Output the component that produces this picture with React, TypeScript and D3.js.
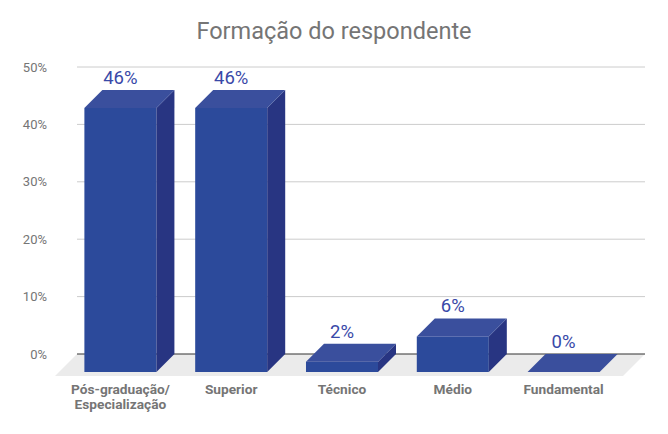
import React from "react";
import * as d3 from "d3";

const categories = ["Pós-graduação/\nEspecialização", "Superior", "Técnico", "Médio", "Fundamental"];
const values = [46, 46, 1.8, 6.2, 0];
const yTicks = [0, 10, 20, 30, 40, 50];
const title = "Formação do respondente";

const W = 668;
const H = 434;
const DX = 18;
const DY = 18;

export default function App() {
  const y = d3.scaleLinear().domain([0, 50]).range([354, 67]);
  const x = d3.scaleBand<string>().domain(categories).range([65, 619]).paddingInner(0.35).paddingOuter(0.175);
  const bw = x.bandwidth();
  const gridX0 = 77;
  const gridX1 = 645;
  const y0 = y(0);
  const font = "Roboto, 'Noto Sans', sans-serif";

  const floor = [
    [gridX0, y0],
    [gridX1, y0],
    [gridX1 - 22, y0 + 22],
    [gridX0 - 22, y0 + 22],
  ];

  return (
    <svg width={W} height={H} style={{ position: "fixed", left: 0, top: 0, background: "#fff" }} fontFamily={font}>
      <rect x={0} y={0} width={W} height={H} fill="#fff" />
      <text x={334} y={39} textAnchor="middle" fontSize={23.5} fill="#757575">{title}</text>
      <polygon points={floor.map((p) => p.join(",")).join(" ")} fill="#ebebeb" />
      {yTicks.map((t) => (
        <g key={t}>
          {t > 0 && <line x1={gridX0} x2={gridX1} y1={y(t)} y2={y(t)} stroke="#cccccc" strokeWidth={1} />}
          <text x={47} y={y(t) + 4.5} textAnchor="end" fontSize={13} fill="#757575">{t + "%"}</text>
        </g>
      ))}
      <line x1={gridX0} x2={gridX1} y1={y0} y2={y0} stroke="#333333" strokeWidth={1.2} />
      {categories.map((c, i) => {
        const v = values[i];
        const xf = x(c) as number;
        const yb = y(v);
        const yf = yb + DY;
        const bottomF = y0 + DY;
        const top = [[xf, yf], [xf + DX, yb], [xf + bw + DX, yb], [xf + bw, yf]];
        const side = [[xf + bw, yf], [xf + bw + DX, yb], [xf + bw + DX, y0], [xf + bw, bottomF]];
        const lines = c.split("\n");
        return (
          <g key={c}>
            {bottomF - yf > 0 && <rect x={xf} y={yf} width={bw} height={bottomF - yf} fill="#2c4a9b" />}
            {bottomF - yf > 0 && <polygon points={side.map((p) => p.join(",")).join(" ")} fill="#283582" />}
            <polygon points={top.map((p) => p.join(",")).join(" ")} fill="#3a4f9d" />
            <text x={xf + bw / 2} y={yb - 6} textAnchor="middle" fontSize={18.5} fill="#3949a8">{Math.round(v) + "%"}</text>
            {lines.map((l, j) => (
              <text key={j} x={xf + bw / 2} y={394 + j * 14.5} textAnchor="middle" fontSize={13.7} fontWeight="bold" fill="#757575">{l}</text>
            ))}
          </g>
        );
      })}
    </svg>
  );
}
